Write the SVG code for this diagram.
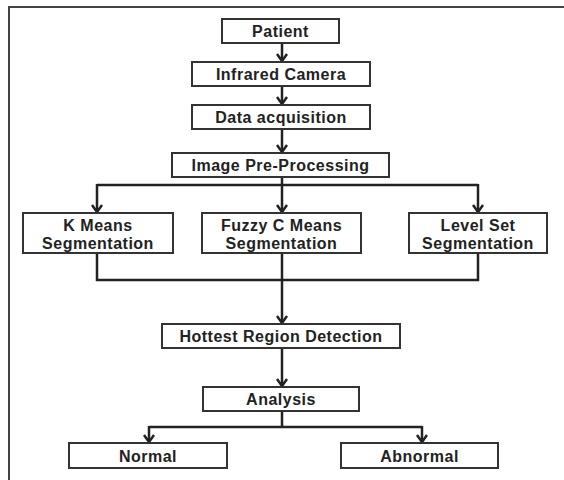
<svg xmlns="http://www.w3.org/2000/svg" width="564" height="480" viewBox="0 0 564 480">
<style>
.box{fill:#fff;stroke:#333;stroke-width:2}
.lbl{font-family:"Liberation Sans",Arial,sans-serif;font-weight:700;font-size:16px;letter-spacing:0.5px;fill:#222;text-anchor:middle}
.ln{fill:none;stroke:#222;stroke-width:2.5}
.ar{fill:none;stroke:#222;stroke-width:2.5;marker-end:url(#ah)}
</style>
<defs>
<marker id="ah" markerUnits="userSpaceOnUse" markerWidth="12" markerHeight="14" viewBox="0 0 12 14" refX="10" refY="7" orient="auto">
<path d="M3,2 L10,7 L3,12" fill="none" stroke="#222" stroke-width="2.5"/>
</marker>
</defs>
<rect x="9" y="7" width="570" height="490" fill="none" stroke="#444" stroke-width="2"/>
<g id="connectors">
<path class="ar" d="M282,43 V61"/>
<path class="ar" d="M282,86 V104"/>
<path class="ar" d="M282,129 V152"/>
<path class="ln" d="M282,177 V185 M97,185 H478"/>
<path class="ar" d="M97,184 V212"/>
<path class="ar" d="M282,185 V212"/>
<path class="ar" d="M478,184 V212"/>
<path class="ln" d="M97,253 V280 H478 V253"/>
<path class="ar" d="M282,253 V323"/>
<path class="ar" d="M282,348 V386"/>
<path class="ln" d="M282,411 V427 M149,427 H422"/>
<path class="ar" d="M149,426 V442"/>
<path class="ar" d="M422,426 V442"/>
</g>
<g id="patient"><rect class="box" x="222" y="19" width="117" height="24"/><text class="lbl" x="280.5" y="37">Patient</text></g>
<g id="infrared-camera"><rect class="box" x="192" y="62" width="178" height="24"/><text class="lbl" x="281" y="80">Infrared Camera</text></g>
<g id="data-acquisition"><rect class="box" x="192" y="105" width="178" height="24"/><text class="lbl" x="281" y="123">Data acquisition</text></g>
<g id="image-pre-processing"><rect class="box" x="172" y="153" width="217" height="24"/><text class="lbl" x="280.5" y="171">Image Pre-Processing</text></g>
<g id="k-means"><rect class="box" x="23" y="213" width="150" height="40"/><text class="lbl" x="98" y="230.5">K Means<tspan x="98" dy="18">Segmentation</tspan></text></g>
<g id="fuzzy-c-means"><rect class="box" x="202" y="213" width="159" height="40"/><text class="lbl" x="281.5" y="230.5">Fuzzy C Means<tspan x="281.5" dy="18">Segmentation</tspan></text></g>
<g id="level-set"><rect class="box" x="409" y="213" width="138" height="40"/><text class="lbl" x="478" y="230.5">Level Set<tspan x="478" dy="18">Segmentation</tspan></text></g>
<g id="hottest-region"><rect class="box" x="162" y="324" width="238" height="24"/><text class="lbl" x="281" y="342">Hottest Region Detection</text></g>
<g id="analysis"><rect class="box" x="203" y="387" width="156" height="24"/><text class="lbl" x="281" y="405">Analysis</text></g>
<g id="normal"><rect class="box" x="69" y="443" width="158" height="25"/><text class="lbl" x="148" y="461.5">Normal</text></g>
<g id="abnormal"><rect class="box" x="341" y="443" width="157" height="25"/><text class="lbl" x="419.5" y="461.5">Abnormal</text></g>
</svg>
